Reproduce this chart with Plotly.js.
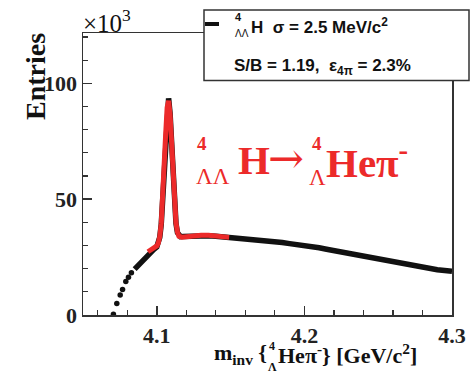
<!DOCTYPE html>
<html><head><meta charset="utf-8">
<script src="https://cdn.plot.ly/plotly-3.0.1.min.js"></script>
<style>html,body{margin:0;padding:0;background:#fff;}#chart{width:475px;height:380px;}</style>
</head><body><div id="chart"></div>
<script>
// ---- data (values in units of 10^3 entries) ----
const threshX = [4.0706, 4.0729, 4.0752, 4.0768, 4.0790, 4.0808, 4.0828];
const threshY = [0.3, 5.0, 8.6, 11.0, 14.5, 16.3, 18.2];

const contX = [4.085, 4.088, 4.090, 4.092, 4.094, 4.096, 4.098, 4.100, 4.102, 4.103, 4.104, 4.105, 4.106, 4.107, 4.108, 4.109, 4.110, 4.111, 4.112, 4.113, 4.114, 4.116, 4.118, 4.120, 4.125, 4.130, 4.135, 4.140, 4.145, 4.150, 4.155, 4.160, 4.165, 4.170, 4.175, 4.180, 4.185, 4.190, 4.195, 4.200, 4.205, 4.210, 4.215, 4.220, 4.225, 4.230, 4.235, 4.240, 4.245, 4.250, 4.255, 4.260, 4.265, 4.270, 4.275, 4.280, 4.285, 4.290, 4.295, 4.300];
const contY = [19.8, 21.9, 23.2, 24.3, 25.8, 27.2, 28.3, 29.4, 33.5, 39.0, 50.0, 63.0, 78.0, 89.0, 93.5, 87.0, 73.0, 59.0, 47.0, 39.5, 35.5, 33.8, 33.9, 34.0, 34.2, 34.3, 34.2, 34.0, 33.7, 33.4, 33.3, 33.1, 32.9, 32.6, 32.2, 31.8, 31.3, 30.8, 30.5, 30.1, 29.6, 29.0, 28.4, 27.8, 27.1, 26.4, 25.7, 25.0, 24.4, 23.8, 23.2, 22.6, 22.1, 21.5, 21.0, 20.4, 19.9, 19.5, 19.2, 18.9];

const fitX = [4.094, 4.097, 4.100, 4.101, 4.102, 4.103, 4.104, 4.105, 4.106, 4.107, 4.108, 4.109, 4.110, 4.111, 4.112, 4.113, 4.114, 4.115, 4.117, 4.120, 4.125, 4.130, 4.135, 4.140, 4.145, 4.149];
const fitY = [27.3, 28.5, 29.8, 31.0, 33.8, 39.5, 49.5, 63.0, 78.0, 89.5, 92.5, 86.5, 73.0, 59.0, 47.0, 39.8, 35.8, 34.0, 33.6, 33.9, 34.2, 34.4, 34.4, 34.1, 33.8, 33.5];

const xTickVals = [4.1, 4.2, 4.3];
const xTickText = ['4.1', '4.2', '4.3'];
const yTickVals = [0, 50, 100];
const yTickText = ['0', '50', '100'];

// ---- layout helpers (pixel -> paper) ----
const L = 83, T = 33, W = 369, H = 282;
const px = x => (x - L) / W;
const py = y => (T + H - y) / H;

const serif = 'Liberation Serif, Times New Roman, serif';
const sans = 'Liberation Sans, Arial, sans-serif';
const red = '#ec2a2a';

const traces = [
  {x: threshX, y: threshY, type: 'scatter', mode: 'markers',
   marker: {color: '#111', size: 5.5}, hoverinfo: 'skip', showlegend: false},
  {x: contX, y: contY, type: 'scatter', mode: 'lines',
   line: {color: '#111', width: 5.5}, hoverinfo: 'skip', showlegend: false},
  {x: fitX, y: fitY, type: 'scatter', mode: 'lines',
   line: {color: red, width: 5}, hoverinfo: 'skip', showlegend: false}
];

function ann(text, x, y, size, opts) {
  return Object.assign({
    text: text, xref: 'paper', yref: 'paper', x: px(x), y: py(y),
    xanchor: 'center', yanchor: 'middle', showarrow: false,
    font: {family: serif, size: size, color: '#111', weight: 'bold'}
  }, opts || {});
}

const annotations = [
  // x10^3
  ann('×10<sup>3</sup>', 81, 21, 25, {xanchor: 'left', font: {family: serif, size: 25, color: '#111'}}),
  // y title
  ann('Entries', 35, 76, 28, {textangle: -90}),
  // x title pieces
  ann('m<sub>inv</sub> {', 269, 354, 22, {xanchor: 'right'}),
  ann('4', 272, 346, 12),
  ann('Λ', 272, 367, 12),
  ann('Heπ<sup>-</sup>} [GeV/c<sup>2</sup>]', 276, 354, 22, {xanchor: 'left'}),
  // red reaction label
  ann('4', 202, 143, 19, {font: {family: serif, size: 19, color: red, weight: 'bold'}}),
  ann('ΛΛ', 213, 176, 23, {font: {family: serif, size: 23, color: red}}),
  ann('H', 236, 160, 41, {xanchor: 'left', font: {family: serif, size: 41, color: red, weight: 'bold'}}),
  ann('→', 286, 158, 43, {font: {family: 'DejaVu Serif, serif', size: 43, color: red}}),
  ann('4', 317, 143, 19, {font: {family: serif, size: 19, color: red, weight: 'bold'}}),
  ann('Λ', 317, 177, 23, {font: {family: serif, size: 23, color: red}}),
  ann('Heπ<sup>-</sup>', 324, 160, 41, {xanchor: 'left', font: {family: serif, size: 41, color: red, weight: 'bold'}}),
  // legend box text
  ann('4', 238, 17, 11, {font: {family: sans, size: 11, color: '#111', weight: 'bold'}}),
  ann('ΛΛ', 242, 33, 10, {font: {family: sans, size: 10, color: '#111'}}),
  ann('H  σ = 2.5 MeV/c<sup>2</sup>', 249, 26, 17, {xanchor: 'left', font: {family: sans, size: 17, color: '#111', weight: 'bold'}}),
  ann('S/B = 1.19,  ε<sub>4π</sub> = 2.3%', 232, 67, 17, {xanchor: 'left', font: {family: sans, size: 17, color: '#111', weight: 'bold'}})
];

const shapes = [
  {type: 'rect', xref: 'paper', yref: 'paper', x0: px(204), x1: px(469), y0: py(80.5), y1: py(10),
   line: {color: '#333', width: 1.5}, fillcolor: '#fff', layer: 'above'},
  {type: 'line', xref: 'paper', yref: 'paper', x0: px(205), x1: px(219), y0: py(24), y1: py(24),
   line: {color: '#111', width: 4}, layer: 'above'}
];

const axisCommon = {
  showgrid: false, zeroline: false, showline: true, mirror: true,
  linecolor: '#333', linewidth: 1.5, ticks: 'inside', ticklen: 9, tickwidth: 1.5, tickcolor: '#333',
  tickmode: 'array', tickfont: {family: serif, size: 22, color: '#222', weight: 'bold'}
};

const layout = {
  width: 475, height: 380,
  margin: {l: L, r: 475 - L - W, t: T, b: 380 - T - H, pad: 0},
  paper_bgcolor: '#fff', plot_bgcolor: '#fff',
  showlegend: false,
  xaxis: Object.assign({}, axisCommon, {
    range: [4.05, 4.3], tickvals: xTickVals, ticktext: xTickText,
    minor: {tickmode: 'linear', tick0: 4.0, dtick: 0.02, ticks: 'inside', ticklen: 5, tickwidth: 1.2, tickcolor: '#333'}
  }),
  yaxis: Object.assign({}, axisCommon, {
    range: [0, 121.7], tickvals: yTickVals, ticktext: yTickText,
    minor: {tickmode: 'linear', tick0: 0, dtick: 10, ticks: 'inside', ticklen: 5, tickwidth: 1.2, tickcolor: '#333'}
  }),
  annotations: annotations,
  shapes: shapes
};

Plotly.newPlot('chart', traces, layout, {staticPlot: true, displayModeBar: false});
</script>
</body></html>
